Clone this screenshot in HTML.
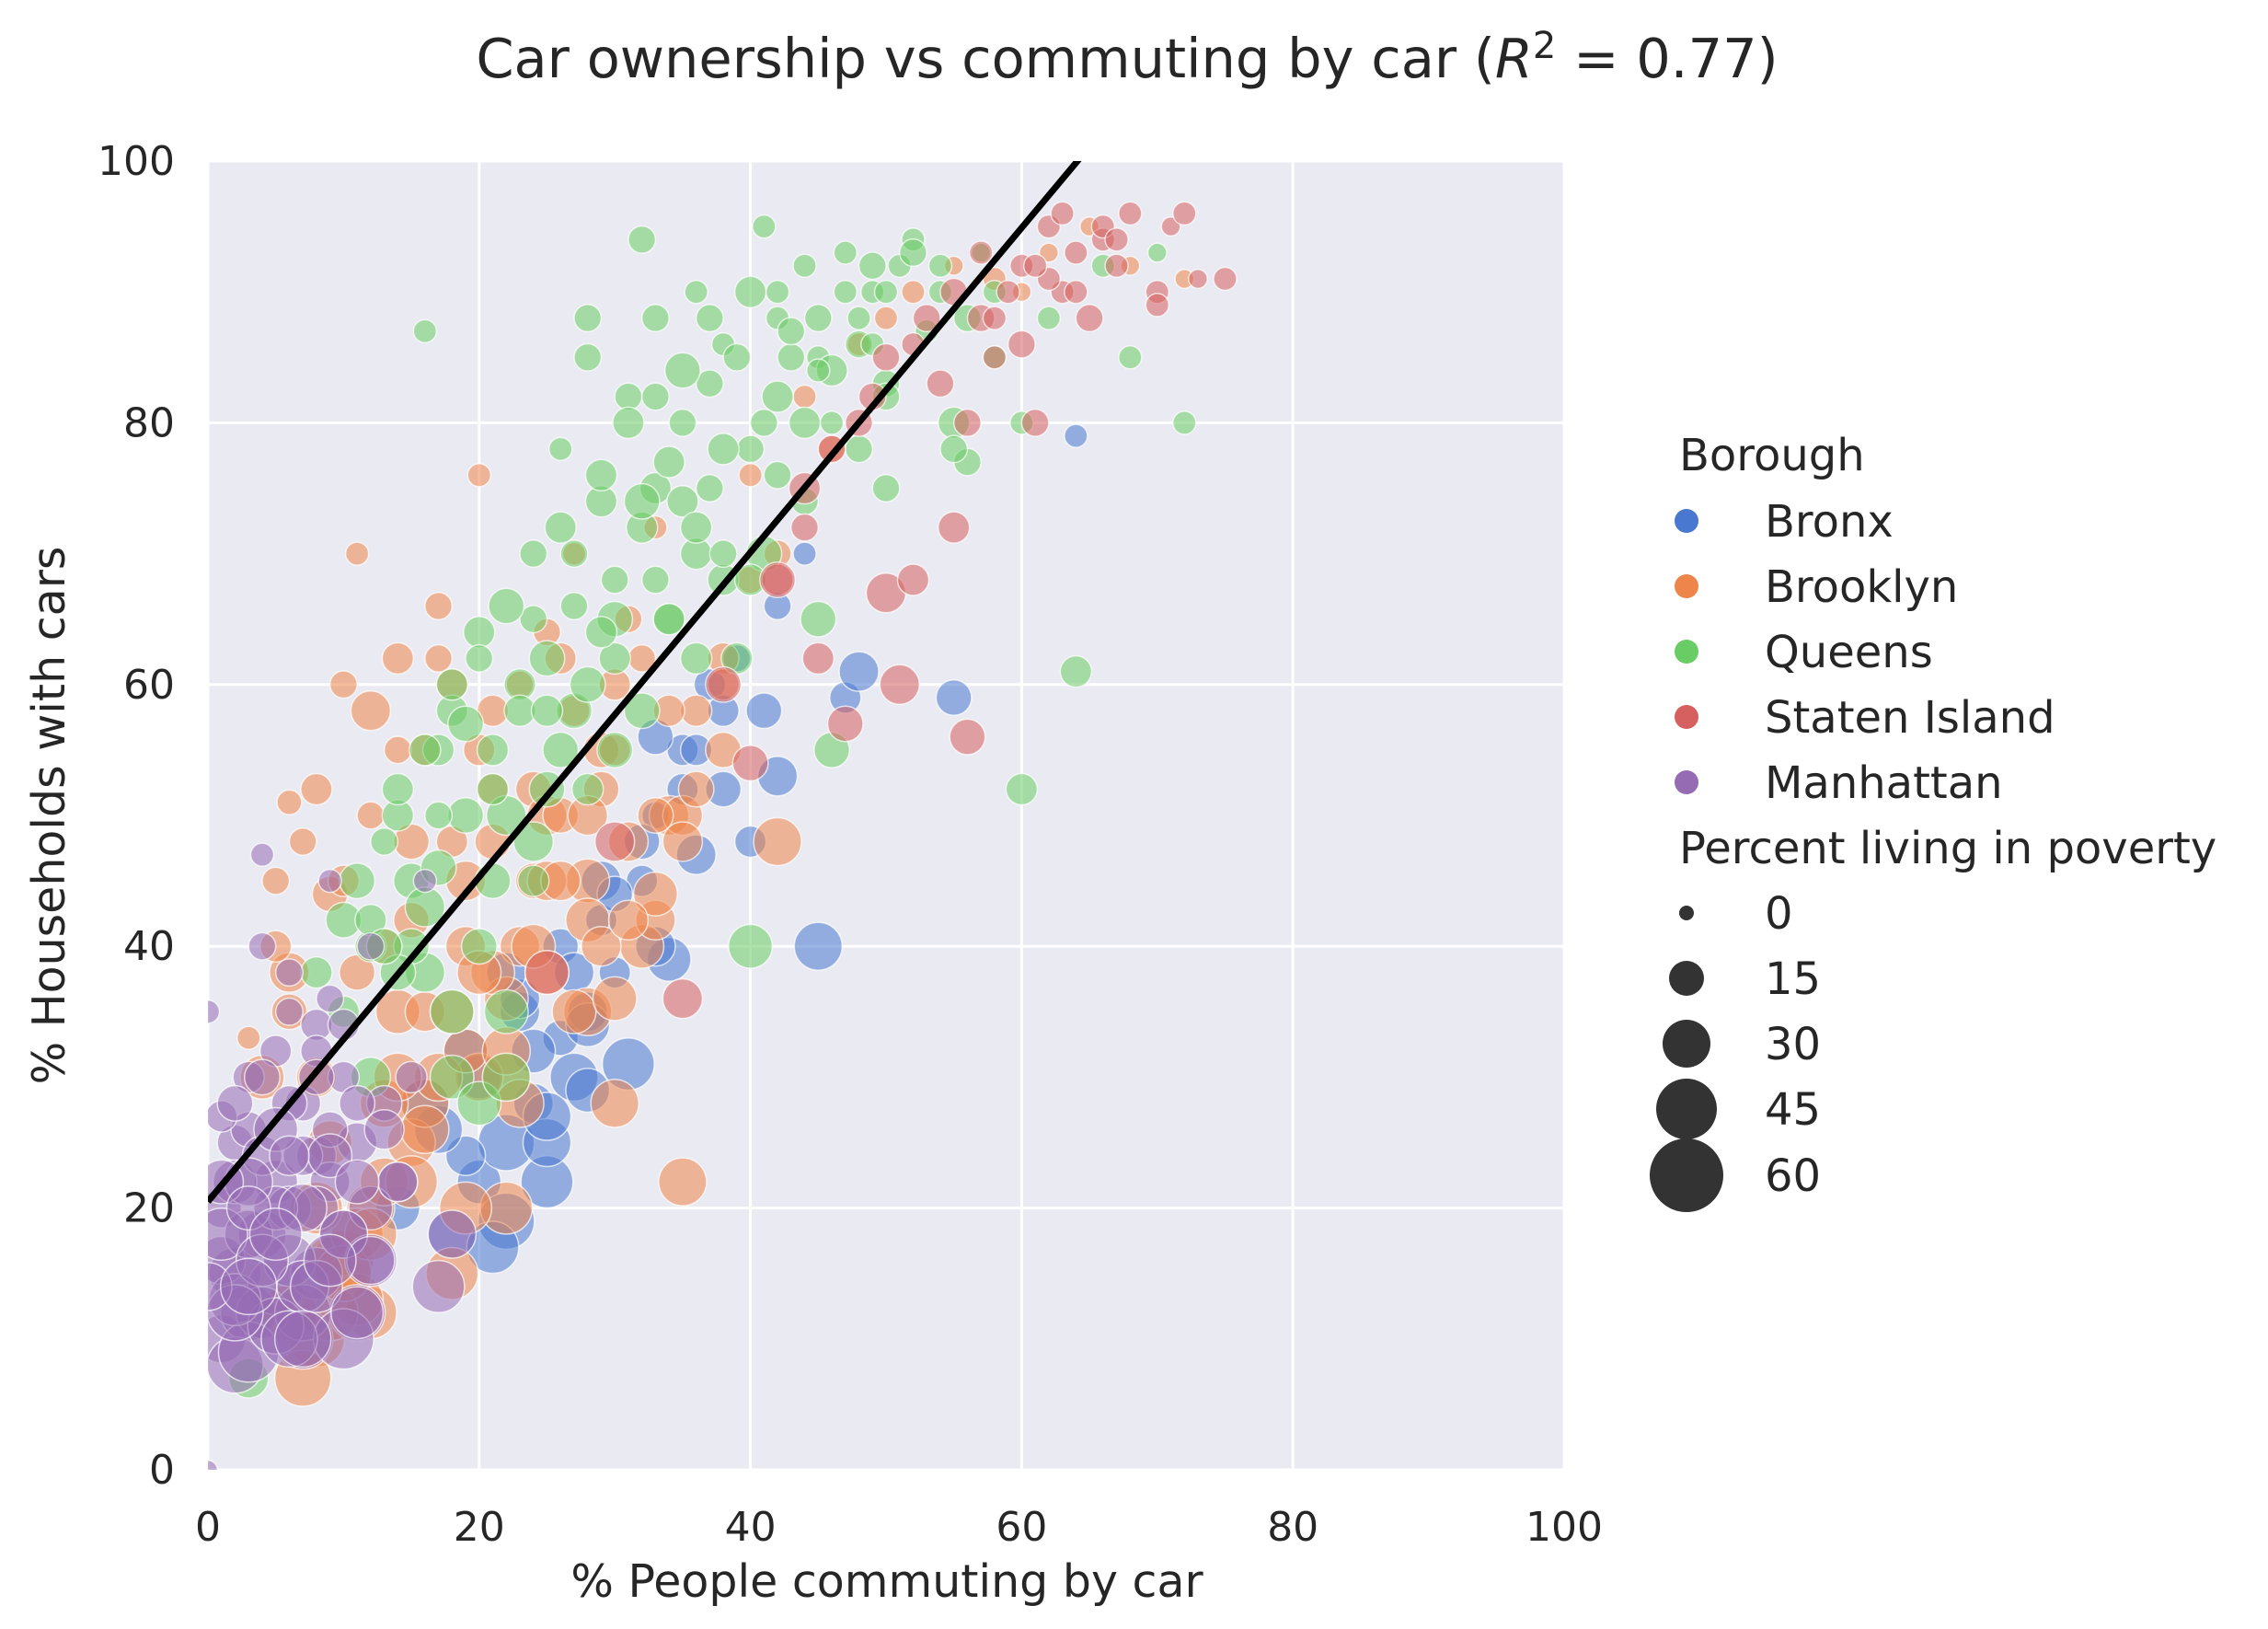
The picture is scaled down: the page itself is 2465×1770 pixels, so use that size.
<!DOCTYPE html>
<html><head><meta charset="utf-8">
<style>
html,body{margin:0;padding:0;background:#fff;}
svg text{font-family:"DejaVu Sans","Liberation Sans",sans-serif;fill:#262626;}
</style></head>
<body>
<svg id="chart" width="2465" height="1770" viewBox="0 0 2465 1770" xmlns="http://www.w3.org/2000/svg" style="position:absolute;left:0;top:0">
<rect x="0" y="0" width="2465" height="1770" fill="#fff"/>
<g id="plot"></g>
<g id="axes"></g>
<g id="legend"></g>
<text x="1225" y="84" font-size="59" text-anchor="middle">Car ownership vs commuting by car (<tspan font-style="italic">R</tspan><tspan dy="-21" font-size="40">2</tspan><tspan dy="21"> = 0.77)</tspan></text>
<text x="964" y="1735" font-size="49" text-anchor="middle">% People commuting by car</text>
<text x="0" y="0" font-size="49" text-anchor="middle" transform="translate(70,886) rotate(-90)">% Households with cars</text>
</svg>
<script>
const xTicks=[0,20,40,60,80,100];
const yTicks=[0,20,40,60,80,100];
const boroughs=["Bronx","Brooklyn","Queens","Staten Island","Manhattan"];
const sizeLegend=[0,15,30,45,60];
const fitIntercept=20.5;
const fitSlope=1.24;

const bronxX=[18,20,22,24,25,26,27,28,30,31,32,33,34,35,36,38,40,41,42,45,22,25,28,19,21,23,29,33,37,47,48,55,64,14,17,20,23,26,29,32,35,38,24,27,30,33,36,39,42,44,16,19,22,25,28];
const bronxY=[18,22,25,28,22,33,30,35,38,31,45,50,39,55,47,52,48,58,53,40,19,25,29,24,17,35,42,56,60,59,61,59,79,20,26,30,36,40,45,48,52,58,32,38,44,40,55,62,66,70,28,32,38,27,34];
const bronxP=[40,35,50,30,45,25,40,30,20,45,20,15,35,20,30,25,20,25,30,40,50,40,35,30,45,30,20,25,20,20,30,25,10,35,40,35,30,25,30,25,20,20,35,30,25,30,20,15,15,10,40,35,30,40,35];

const brooklynX=[3,5,6,8,8,10,11,12,12,13,14,15,16,17,18,19,20,21,22,23,24,25,26,27,28,29,30,31,32,33,34,35,36,38,40,42,44,46,48,50,52,55,58,60,62,65,68,72,4,6,9,10,12,15,18,20,22,25,28,30,33,35,38,42,7,9,11,14,16,19,21,5,6,7,8,9,10,11,12,13,14,15,16,17,18,19,20,21,22,23,24,25,26,27,28,29,30,31,32,33,34,36,38,40,9,11,13,15,17,19,21,23,25,27,29,31,33,35,6,8,10,12,14,16,18,20,22,24,26,28,30];
const brooklynY=[33,45,51,52,10,60,70,58,20,40,62,48,55,66,60,45,76,58,30,40,52,50,62,70,45,55,60,65,40,72,50,22,58,55,76,48,82,78,86,88,90,92,91,90,93,95,92,91,30,38,44,16,12,25,15,30,20,38,35,28,42,50,62,70,7,16,13,35,28,20,48,40,35,48,30,25,45,38,50,22,55,42,35,62,48,40,55,52,36,60,45,64,50,58,42,52,55,48,62,44,58,52,60,68,12,18,28,22,30,32,38,28,45,35,40,42,50,48,12,20,15,18,30,26,35,38,32,40,45,50,36];
const brooklynP=[10,15,12,20,50,15,10,30,40,25,20,25,20,15,20,30,10,20,40,30,25,30,20,10,35,25,20,15,35,10,30,40,20,25,10,40,10,15,10,10,10,5,10,5,5,5,5,5,35,30,25,55,45,40,45,40,45,35,40,40,30,30,20,15,50,40,45,35,40,45,25,20,25,15,30,35,20,25,15,40,15,25,30,15,20,30,20,20,35,15,25,15,25,20,35,25,20,30,15,35,20,25,20,15,50,45,40,45,40,35,35,40,30,35,30,30,25,30,50,45,50,45,40,40,35,35,40,35,30,30,35];

const queensX=[3,8,10,12,14,15,16,17,18,19,20,21,22,23,24,25,26,27,28,29,30,31,32,33,34,35,36,37,38,39,40,41,42,43,44,45,46,47,48,49,50,51,52,53,54,55,56,57,58,60,62,64,66,68,70,72,16,18,20,22,24,27,30,32,35,38,40,42,45,50,55,60,28,33,36,10,11,12,13,14,15,16,17,18,19,20,21,22,23,24,25,26,27,28,29,30,31,32,33,34,35,36,37,38,39,40,41,42,43,44,45,46,47,48,49,50,52,54,56,58,12,14,16,18,20,22,24,26,28,30,32,34,36,38,40,42,44,46,48,50,13,17,21,25,29,33,37,41,45,49];
const queensY=[7,38,42,40,50,45,87,55,58,50,64,45,35,60,65,52,78,70,88,74,55,82,94,75,65,80,70,83,86,62,40,95,90,85,92,65,55,93,88,90,75,92,94,87,90,80,77,93,85,52,88,61,92,85,93,80,38,30,28,30,48,58,65,72,74,68,78,88,85,83,78,80,85,88,90,35,45,42,48,52,40,55,50,60,57,62,55,66,58,70,62,72,66,60,76,68,80,74,82,77,84,72,88,78,85,90,70,82,87,80,88,84,90,86,92,90,93,92,88,90,30,38,43,35,40,50,45,55,52,62,58,65,62,70,68,76,74,80,78,82,40,46,52,58,64,68,75,80,84,86];
const queensP=[30,20,25,20,20,25,10,20,20,25,20,25,35,20,15,25,10,15,15,20,25,15,15,20,20,15,20,15,10,20,35,10,10,15,10,25,25,10,10,10,15,10,10,10,10,20,15,5,10,20,10,20,10,10,5,10,30,35,35,40,30,25,25,20,20,20,15,10,10,15,15,10,15,15,10,20,25,20,15,20,25,20,15,20,25,15,20,25,20,15,25,20,15,25,20,15,20,25,15,20,25,20,15,20,15,20,25,20,15,20,15,20,10,15,15,10,15,10,15,10,30,25,30,35,25,30,20,25,20,20,25,20,20,15,20,15,15,10,15,15,25,25,20,20,20,15,15,15,10,10];

const statenX=[35,40,42,44,45,47,48,50,51,52,54,55,56,57,58,59,60,61,62,63,64,65,66,67,68,70,71,72,73,75,25,30,38,50,53,57,62,66,46,49,52,55,58,61,64,67,70,60,63,56,44,42];
const statenY=[36,54,68,72,62,57,80,67,60,68,83,72,56,88,85,90,92,80,95,90,93,88,94,92,96,90,95,96,91,91,38,48,60,85,88,93,91,95,78,82,86,90,88,92,90,94,89,86,96,80,75,68];
const statenP=[30,25,20,15,20,25,15,30,30,20,15,20,25,15,10,10,10,15,10,10,10,15,10,10,10,10,5,10,5,10,35,30,25,15,15,10,10,10,15,15,10,15,10,10,10,10,10,15,10,15,20,25];

const manhattanX=[0,1,1,2,2,3,3,4,4,5,5,6,6,7,7,8,8,9,9,10,10,11,11,12,12,13,14,15,16,17,18,2,3,4,5,6,7,8,9,10,11,1,2,3,4,5,6,7,8,0,1,2,3,5,7,9,4,6,8,12,14,1,2,3,4,5,6,7,8,9,10,11,12,13,0,1,2,3,4,6,8,10,3,5,7,9,11];
const manhattanY=[35,10,20,15,25,12,30,18,40,22,14,35,20,28,10,24,15,36,22,18,30,12,25,16,40,28,22,30,45,14,18,8,26,12,32,16,12,20,26,10,28,16,22,9,24,11,28,14,34,0,27,13,18,20,24,45,47,38,32,20,22,18,12,22,16,26,10,20,14,24,18,22,16,26,14,22,28,20,30,24,30,34,14,18,10,16,12];
const manhattanP=[10,40,30,45,25,50,20,40,15,35,50,15,35,25,55,30,45,15,30,40,20,50,30,45,15,25,30,20,10,45,40,50,25,45,20,45,50,35,25,55,25,40,35,55,30,50,25,45,20,5,20,45,40,35,30,10,10,15,20,35,30,45,50,40,45,35,50,40,45,35,40,35,40,30,40,35,25,35,25,30,25,20,50,45,50,45,45];

const colors=["#4878d0","#ee854a","#6acc64","#d65f5f","#956cb4"];
const X0=226,X1=1700,Y0=1597,Y1=175;
function sx(v){return X0+(v/100)*(X1-X0);}
function sy(v){return Y0-(v/100)*(Y0-Y1);}
function rad(p){return 8+0.45*p;}
const NS="http://www.w3.org/2000/svg";
function mk(tag,attrs,parent){const e=document.createElementNS(NS,tag);for(const k in attrs)e.setAttribute(k,attrs[k]);parent.appendChild(e);return e;}

const plot=document.getElementById('plot');
const axes=document.getElementById('axes');
const lg=document.getElementById('legend');

const defs=mk('defs',{},plot);
const cp=mk('clipPath',{id:'clip'},defs);
mk('rect',{x:X0,y:Y1,width:X1-X0,height:Y0-Y1},cp);
const bg=mk('rect',{x:X0,y:Y1,width:X1-X0,height:Y0-Y1,fill:'#eaeaf2'},plot);


xTicks.forEach(t=>{
  const l=mk('line',{x1:sx(t),x2:sx(t),y1:Y1,y2:Y0,stroke:'#fff','stroke-width':3},plot);
  
  
});
yTicks.forEach(t=>{
  const l=mk('line',{x1:X0,x2:X1,y1:sy(t),y2:sy(t),stroke:'#fff','stroke-width':3},plot);
  
  
});
const pts=mk('g',{'clip-path':'url(#clip)'},plot);


const series=[[bronxX,bronxY,bronxP],[brooklynX,brooklynY,brooklynP],[queensX,queensY,queensP],[statenX,statenY,statenP],[manhattanX,manhattanY,manhattanP]];
series.forEach((s,i)=>{
  const n=Math.min(s[0].length,s[1].length,s[2].length);
  for(let j=0;j<n;j++){
    const c=mk('circle',{cx:sx(s[0][j]),cy:sy(s[1][j]),r:rad(s[2][j]),fill:colors[i],'fill-opacity':0.55,stroke:'#fff','stroke-opacity':0.7,'stroke-width':1.5},pts);
    
    
  }
});
const xEnd=(100-fitIntercept)/fitSlope;
const fit=mk('line',{x1:sx(0),y1:sy(fitIntercept),x2:sx(xEnd+1),y2:sy(fitIntercept+fitSlope*(xEnd+1)),stroke:'#000','stroke-width':7},pts);



xTicks.forEach(t=>{
  const tx=mk('text',{x:sx(t),y:1674,'font-size':44,'text-anchor':'middle'},axes);
  tx.textContent=t;
  
  
});
yTicks.forEach(t=>{
  const tx=mk('text',{x:190,y:sy(t)+15,'font-size':44,'text-anchor':'end'},axes);
  tx.textContent=t;
  
  
});

const t1=mk('text',{x:1825,y:511,'font-size':48},lg);
t1.textContent='Borough';


const ly=[566,637,708,779,850];
boroughs.forEach((b,i)=>{
  const c=mk('circle',{cx:1833,cy:ly[i],r:13,fill:colors[i]},lg);
  
  
  const t=mk('text',{x:1918,y:ly[i]+17,'font-size':48},lg);
  t.textContent=b;
  
  
});
const t2=mk('text',{x:1825,y:938,'font-size':48},lg);
t2.textContent='Percent living in poverty';


const sly=[992,1063,1134,1205,1277];
const slr=[8,19,26,33,40];
sizeLegend.forEach((v,i)=>{
  const c=mk('circle',{cx:1833,cy:sly[i],r:slr[i],fill:'#333'},lg);
  
  
  const t=mk('text',{x:1918,y:sly[i]+17,'font-size':48},lg);
  t.textContent=v;
  
  
});
</script>
</body></html>
